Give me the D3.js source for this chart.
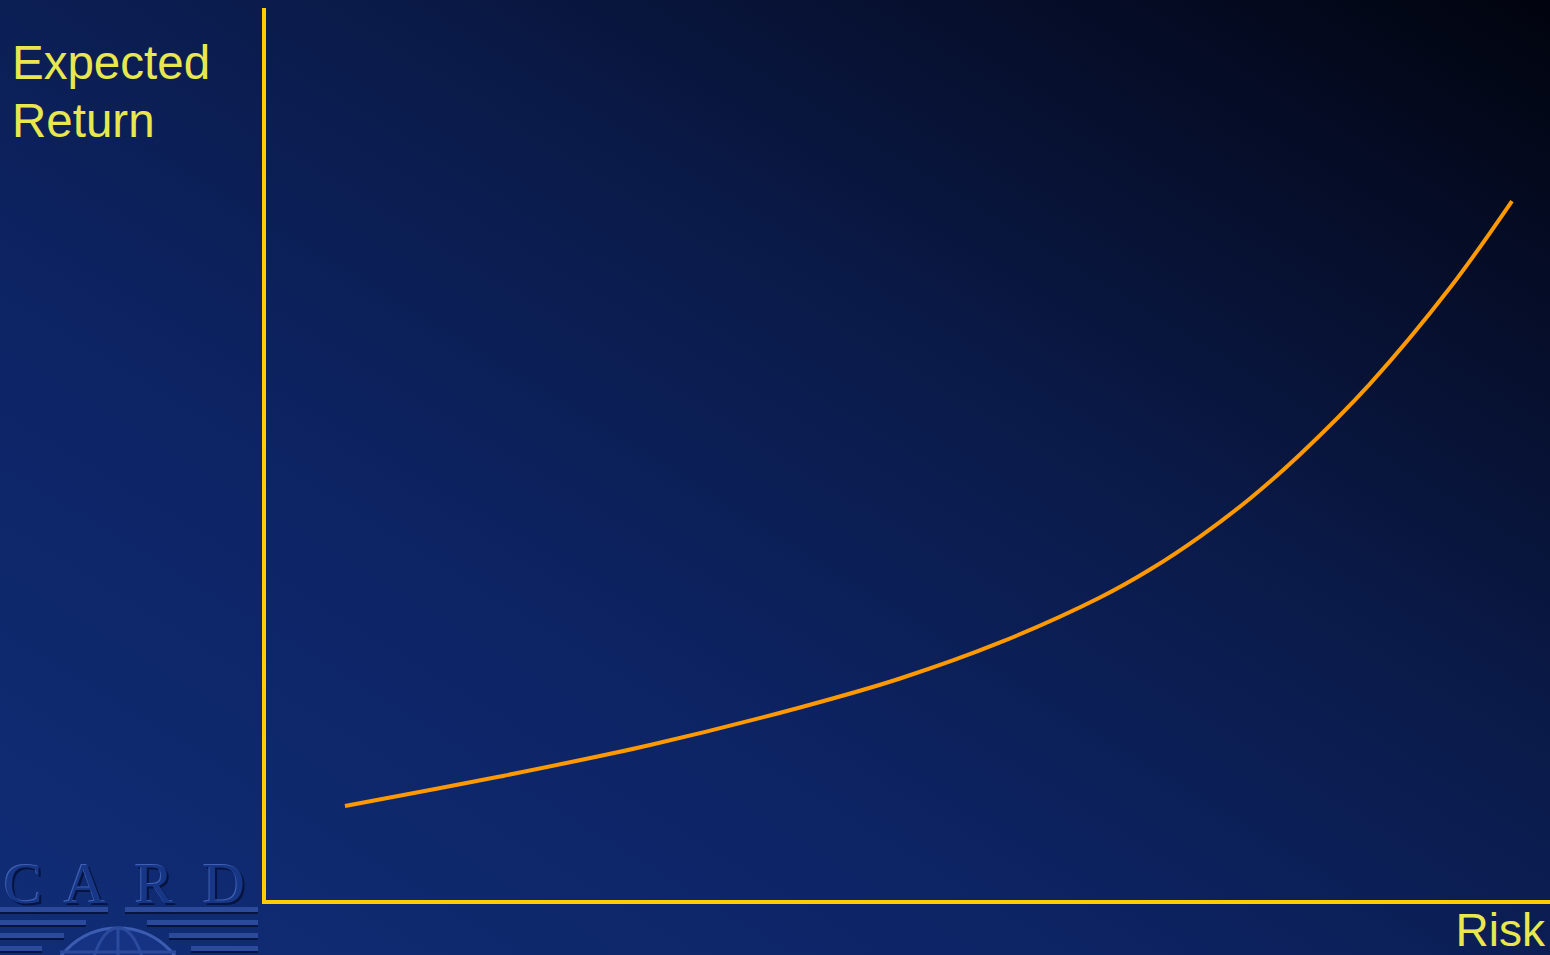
<!DOCTYPE html>
<html><head><meta charset="utf-8">
<script src="https://cdn.jsdelivr.net/npm/d3@7"></script>
<style>html,body{margin:0;padding:0;overflow:hidden;background:#0a1a4a;}</style>
</head><body>
<script>
// Data (risk vs expected return; axes 0..100)
const riskValues   = [6.15, 18.22, 29.91, 41.59, 49.38, 57.17, 64.95, 68.85, 72.74, 76.64, 80.53, 85.98, 92.21, 97.04];
const returnValues = [10.74, 14.04, 17.56, 21.76, 25.00, 29.03, 34.06, 37.19, 40.88, 45.13, 50.06, 57.96, 68.70, 78.41];
const yLabelLines  = ["Expected", "Return"];
const xLabel       = "Risk";
const logoLetters  = ["C", "A", "R", "D"];

const W = 1550, H = 955;
const svg = d3.select("body").append("svg").attr("width", W).attr("height", H);
const defs = svg.append("defs");
const g = defs.append("linearGradient").attr("id", "bg")
  .attr("x1", 0).attr("y1", 1).attr("x2", 1).attr("y2", 0);
[[0, "#102d76"], [0.35, "#0d2464"], [0.62, "#0a1a48"], [0.85, "#050c26"], [1, "#01040e"]]
  .forEach(([o, c]) => g.append("stop").attr("offset", o).attr("stop-color", c));
svg.append("rect").attr("width", W).attr("height", H).attr("fill", "url(#bg)");

// Logo (CARD, embossed)
const logo = svg.append("g");
const clip = defs.append("clipPath").attr("id", "logoclip");
clip.append("rect").attr("x", 0).attr("y", 840).attr("width", 262).attr("height", 115);
const lg = logo.append("g").attr("clip-path", "url(#logoclip)");
const letterX = d3.scaleOrdinal().domain(logoLetters).range([23, 85, 154, 224]);
[["#061440", 2, 2], ["#3f60b4", -1, -1], ["#183686", 0, 0]].forEach(([c, dx, dy]) => {
  lg.selectAll(null).data(logoLetters).enter().append("text")
    .attr("x", d => letterX(d) + dx).attr("y", 903 + dy)
    .attr("text-anchor", "middle")
    .attr("font-family", "Liberation Serif, serif").attr("font-size", 58)
    .attr("fill", c).text(d => d);
});
const stripes = [907, 920, 933, 946];
stripes.forEach((y, i) => {
  const lw = 108 - i * 22, rs = 125 + i * 22;
  [[0, lw], [rs, 258]].forEach(([a, b]) => {
    lg.append("rect").attr("x", a).attr("y", y + 2).attr("width", b - a).attr("height", 5).attr("fill", "#061440");
    lg.append("rect").attr("x", a).attr("y", y).attr("width", b - a).attr("height", 5).attr("fill", "#2b4a9c");
  });
});
lg.append("circle").attr("cx", 118).attr("cy", 1000).attr("r", 72)
  .attr("fill", "#163282").attr("stroke", "#3b5cb0").attr("stroke-width", 3);
lg.append("ellipse").attr("cx", 118).attr("cy", 1000).attr("rx", 30).attr("ry", 72)
  .attr("fill", "none").attr("stroke", "#2b4a9c").attr("stroke-width", 3);
lg.append("line").attr("x1", 118).attr("x2", 118).attr("y1", 928).attr("y2", 960)
  .attr("stroke", "#2b4a9c").attr("stroke-width", 3);
lg.append("line").attr("x1", 60).attr("x2", 176).attr("y1", 952).attr("y2", 952)
  .attr("stroke", "#2b4a9c").attr("stroke-width", 3);

// Scales
const x = d3.scaleLinear().domain([0, 100]).range([266, 1550]);
const y = d3.scaleLinear().domain([0, 100]).range([902, 8]);

// Axes (plain lines, no ticks)
svg.append("line").attr("x1", x(0) - 2).attr("x2", x(0) - 2).attr("y1", y(100)).attr("y2", y(0) + 2)
  .attr("stroke", "#ffcc00").attr("stroke-width", 4);
svg.append("line").attr("x1", x(0) - 4).attr("x2", x(100)).attr("y1", y(0)).attr("y2", y(0))
  .attr("stroke", "#ffcc00").attr("stroke-width", 4);

// Curve
const pts = riskValues.map((r, i) => [r, returnValues[i]]);
svg.append("path").datum(pts)
  .attr("d", d3.line().x(d => x(d[0])).y(d => y(d[1])).curve(d3.curveCatmullRom.alpha(0.5)))
  .attr("fill", "none").attr("stroke", "#ff9900").attr("stroke-width", 4);

// Labels
const lab = svg.append("text").attr("font-family", "Liberation Sans, Arial, sans-serif")
  .attr("font-size", 47.5).attr("fill", "#e8e84e");
lab.selectAll("tspan").data(yLabelLines).enter().append("tspan")
  .attr("x", 12).attr("y", (d, i) => 79 + i * 58).text(d => d);
svg.append("text").attr("x", 1545).attr("y", 946).attr("text-anchor", "end")
  .attr("font-family", "Liberation Sans, Arial, sans-serif").attr("font-size", 46)
  .attr("fill", "#e8e84e").text(xLabel);
</script>
</body></html>
